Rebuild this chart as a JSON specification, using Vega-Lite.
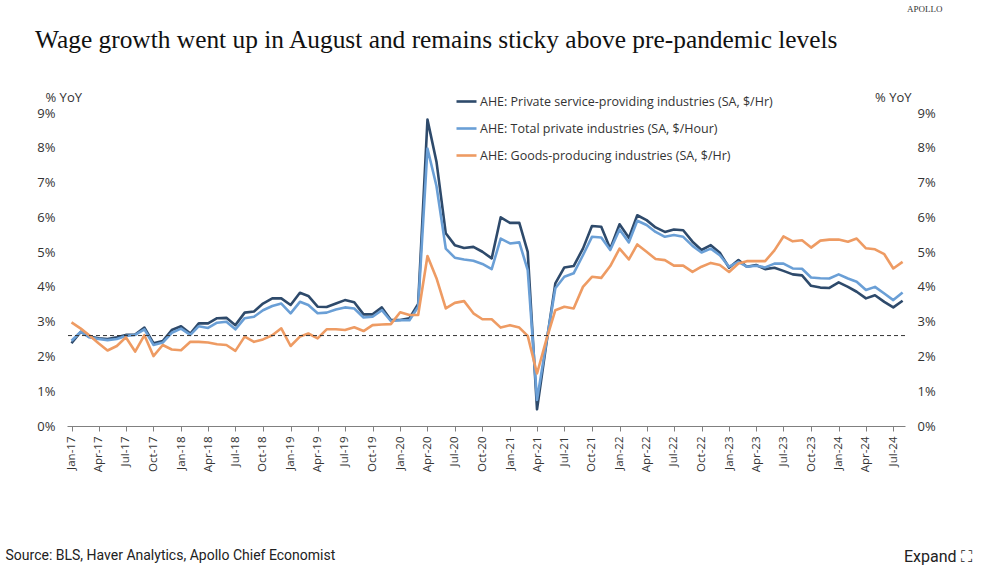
{
  "$schema": "https://vega.github.io/schema/vega-lite/v6.json",
  "width": 838,
  "height": 313,
  "autosize": {"type": "none"},
  "padding": {"left": 67, "top": 113, "right": 80, "bottom": 150},
  "background": "white",
  "config": {"view": {"stroke": null}},
  "title": {
    "text": "Wage growth went up in August and remains sticky above pre-pandemic levels",
    "anchor": "start",
    "frame": "group",
    "dx": -32,
    "dy": 48,
    "font": "Liberation Serif",
    "fontSize": 25.4,
    "fontWeight": "normal",
    "color": "#111111"
  },
  "datasets": {
    "wages": [
      {"d":"2017-01","svc":2.38,"tot":2.45,"goods":2.98},
      {"d":"2017-02","svc":2.71,"tot":2.71,"goods":2.80},
      {"d":"2017-03","svc":2.57,"tot":2.55,"goods":2.61},
      {"d":"2017-04","svc":2.52,"tot":2.50,"goods":2.38},
      {"d":"2017-05","svc":2.50,"tot":2.47,"goods":2.17},
      {"d":"2017-06","svc":2.55,"tot":2.50,"goods":2.30},
      {"d":"2017-07","svc":2.62,"tot":2.59,"goods":2.55},
      {"d":"2017-08","svc":2.63,"tot":2.62,"goods":2.14},
      {"d":"2017-09","svc":2.83,"tot":2.78,"goods":2.61},
      {"d":"2017-10","svc":2.38,"tot":2.33,"goods":2.01},
      {"d":"2017-11","svc":2.44,"tot":2.40,"goods":2.33},
      {"d":"2017-12","svc":2.76,"tot":2.68,"goods":2.20},
      {"d":"2018-01","svc":2.87,"tot":2.80,"goods":2.18},
      {"d":"2018-02","svc":2.66,"tot":2.62,"goods":2.42},
      {"d":"2018-03","svc":2.95,"tot":2.87,"goods":2.42},
      {"d":"2018-04","svc":2.95,"tot":2.82,"goods":2.40},
      {"d":"2018-05","svc":3.10,"tot":2.97,"goods":2.35},
      {"d":"2018-06","svc":3.11,"tot":3.00,"goods":2.33},
      {"d":"2018-07","svc":2.90,"tot":2.78,"goods":2.16},
      {"d":"2018-08","svc":3.26,"tot":3.10,"goods":2.57},
      {"d":"2018-09","svc":3.29,"tot":3.14,"goods":2.42},
      {"d":"2018-10","svc":3.52,"tot":3.33,"goods":2.49},
      {"d":"2018-11","svc":3.67,"tot":3.45,"goods":2.61},
      {"d":"2018-12","svc":3.67,"tot":3.52,"goods":2.81},
      {"d":"2019-01","svc":3.48,"tot":3.24,"goods":2.30},
      {"d":"2019-02","svc":3.83,"tot":3.57,"goods":2.57},
      {"d":"2019-03","svc":3.74,"tot":3.48,"goods":2.66},
      {"d":"2019-04","svc":3.43,"tot":3.24,"goods":2.52},
      {"d":"2019-05","svc":3.42,"tot":3.26,"goods":2.78},
      {"d":"2019-06","svc":3.52,"tot":3.35,"goods":2.78},
      {"d":"2019-07","svc":3.62,"tot":3.41,"goods":2.76},
      {"d":"2019-08","svc":3.56,"tot":3.38,"goods":2.84},
      {"d":"2019-09","svc":3.21,"tot":3.12,"goods":2.73},
      {"d":"2019-10","svc":3.21,"tot":3.14,"goods":2.90},
      {"d":"2019-11","svc":3.41,"tot":3.33,"goods":2.92},
      {"d":"2019-12","svc":3.05,"tot":3.02,"goods":2.93},
      {"d":"2020-01","svc":3.05,"tot":3.04,"goods":3.27},
      {"d":"2020-02","svc":3.10,"tot":3.04,"goods":3.19},
      {"d":"2020-03","svc":3.51,"tot":3.43,"goods":3.19},
      {"d":"2020-04","svc":8.81,"tot":7.98,"goods":4.89},
      {"d":"2020-05","svc":7.60,"tot":6.90,"goods":4.25},
      {"d":"2020-06","svc":5.54,"tot":5.10,"goods":3.38},
      {"d":"2020-07","svc":5.20,"tot":4.84,"goods":3.54},
      {"d":"2020-08","svc":5.12,"tot":4.79,"goods":3.59},
      {"d":"2020-09","svc":5.15,"tot":4.75,"goods":3.24},
      {"d":"2020-10","svc":5.01,"tot":4.66,"goods":3.07},
      {"d":"2020-11","svc":4.82,"tot":4.51,"goods":3.07},
      {"d":"2020-12","svc":6.00,"tot":5.39,"goods":2.83},
      {"d":"2021-01","svc":5.84,"tot":5.25,"goods":2.90},
      {"d":"2021-02","svc":5.84,"tot":5.28,"goods":2.83},
      {"d":"2021-03","svc":5.01,"tot":4.48,"goods":2.59},
      {"d":"2021-04","svc":0.48,"tot":0.75,"goods":1.51},
      {"d":"2021-05","svc":2.30,"tot":2.35,"goods":2.45},
      {"d":"2021-06","svc":4.10,"tot":3.96,"goods":3.33},
      {"d":"2021-07","svc":4.56,"tot":4.29,"goods":3.43},
      {"d":"2021-08","svc":4.60,"tot":4.39,"goods":3.38},
      {"d":"2021-09","svc":5.10,"tot":4.91,"goods":4.00},
      {"d":"2021-10","svc":5.75,"tot":5.44,"goods":4.29},
      {"d":"2021-11","svc":5.73,"tot":5.42,"goods":4.26},
      {"d":"2021-12","svc":5.10,"tot":5.06,"goods":4.60},
      {"d":"2022-01","svc":5.80,"tot":5.65,"goods":5.10},
      {"d":"2022-02","svc":5.41,"tot":5.28,"goods":4.79},
      {"d":"2022-03","svc":6.06,"tot":5.90,"goods":5.22},
      {"d":"2022-04","svc":5.92,"tot":5.78,"goods":5.01},
      {"d":"2022-05","svc":5.71,"tot":5.58,"goods":4.80},
      {"d":"2022-06","svc":5.58,"tot":5.44,"goods":4.77},
      {"d":"2022-07","svc":5.65,"tot":5.49,"goods":4.61},
      {"d":"2022-08","svc":5.63,"tot":5.44,"goods":4.61},
      {"d":"2022-09","svc":5.30,"tot":5.18,"goods":4.43},
      {"d":"2022-10","svc":5.06,"tot":4.99,"goods":4.58},
      {"d":"2022-11","svc":5.20,"tot":5.10,"goods":4.69},
      {"d":"2022-12","svc":4.98,"tot":4.91,"goods":4.63},
      {"d":"2023-01","svc":4.55,"tot":4.58,"goods":4.43},
      {"d":"2023-02","svc":4.77,"tot":4.72,"goods":4.67},
      {"d":"2023-03","svc":4.58,"tot":4.58,"goods":4.74},
      {"d":"2023-04","svc":4.63,"tot":4.61,"goods":4.74},
      {"d":"2023-05","svc":4.51,"tot":4.56,"goods":4.74},
      {"d":"2023-06","svc":4.55,"tot":4.67,"goods":5.05},
      {"d":"2023-07","svc":4.46,"tot":4.67,"goods":5.45},
      {"d":"2023-08","svc":4.36,"tot":4.53,"goods":5.31},
      {"d":"2023-09","svc":4.33,"tot":4.52,"goods":5.34},
      {"d":"2023-10","svc":4.03,"tot":4.27,"goods":5.13},
      {"d":"2023-11","svc":3.98,"tot":4.25,"goods":5.33},
      {"d":"2023-12","svc":3.97,"tot":4.24,"goods":5.36},
      {"d":"2024-01","svc":4.13,"tot":4.36,"goods":5.36},
      {"d":"2024-02","svc":4.00,"tot":4.24,"goods":5.30},
      {"d":"2024-03","svc":3.86,"tot":4.15,"goods":5.39},
      {"d":"2024-04","svc":3.67,"tot":3.91,"goods":5.11},
      {"d":"2024-05","svc":3.76,"tot":4.00,"goods":5.08},
      {"d":"2024-06","svc":3.57,"tot":3.81,"goods":4.94},
      {"d":"2024-07","svc":3.41,"tot":3.62,"goods":4.53},
      {"d":"2024-08","svc":3.60,"tot":3.84,"goods":4.72}
    ],
    "ref": [{"level": 2.6, "note": "Expand ⛶", "brand": "APOLLO"}]
  },
  "resolve": {"axis": {"y": "independent"}},
  "layer": [
    {
      "data": {"name": "wages", "format": {"parse": {"d": "utc:'%Y-%m'"}}},
      "transform": [{"fold": ["svc", "tot", "goods"], "as": ["series", "value"]}],
      "mark": {"type": "line", "strokeWidth": 2.6, "strokeJoin": "round"},
      "encoding": {
        "x": {
          "field": "d",
          "type": "temporal",
          "scale": {"type": "utc", "domain": [{"year": 2016, "month": 12, "date": 17, "utc": true}, {"year": 2024, "month": 8, "date": 9, "utc": true}]},
          "axis": {
            "tickCount": {"interval": "month", "step": 3},
            "format": "%b-%y",
            "labelAngle": -90,
            "labelFont": "Open Sans",
            "labelFontSize": 11.5,
            "labelColor": "#333333",
            "labelPadding": 5,
            "labelOverlap": false,
            "labelFlush": false,
            "grid": false,
            "ticks": true,
            "tickSize": 5,
            "tickColor": "#808080",
            "domainColor": "#808080",
            "title": "Source: BLS, Haver Analytics, Apollo Chief Economist",
            "titleFont": "Roboto",
            "titleFontSize": 14,
            "titleFontWeight": "normal",
            "titleColor": "#222222",
            "titleAlign": "left",
            "titleAnchor": "start",
            "titleBaseline": "middle",
            "titleX": -62,
            "titleY": 129
          }
        },
        "y": {
          "field": "value",
          "type": "quantitative",
          "scale": {"domain": [0, 9], "nice": false},
          "axis": {
            "orient": "left",
            "values": [0, 1, 2, 3, 4, 5, 6, 7, 8, 9],
            "labelExpr": "datum.value + '%'",
            "labelFont": "Open Sans",
            "labelFontSize": 13,
            "labelColor": "#333333",
            "labelPadding": 12,
            "ticks": false,
            "domain": false,
            "grid": false,
            "title": "% YoY",
            "titleAngle": 0,
            "titleFont": "Open Sans",
            "titleFontSize": 13,
            "titleFontWeight": "normal",
            "titleColor": "#333333",
            "titleAlign": "left",
            "titleBaseline": "middle",
            "titleX": -22,
            "titleY": -16
          }
        },
        "color": {
          "field": "series",
          "type": "nominal",
          "scale": {"domain": ["svc", "tot", "goods"], "range": ["#2E4A6B", "#6A9FD6", "#EE9B63"]},
          "legend": {
            "orient": "none",
            "legendX": 388,
            "legendY": -23,
            "title": null,
            "symbolType": "stroke",
            "symbolSize": 400,
            "symbolStrokeWidth": 2.6,
            "labelFont": "Open Sans",
            "labelFontSize": 12.5,
            "labelColor": "#333333",
            "labelOffset": 2,
            "rowPadding": 9,
            "labelLimit": 400,
            "labelExpr": "datum.label == 'svc' ? 'AHE: Private service-providing industries (SA, $/Hr)' : datum.label == 'tot' ? 'AHE: Total private industries (SA, $/Hour)' : 'AHE: Goods-producing industries (SA, $/Hr)'"
          }
        }
      }
    },
    {
      "data": {"name": "ref"},
      "mark": {"type": "rule", "color": "#333333"},
      "encoding": {
        "y": {
          "field": "level",
          "type": "quantitative",
          "axis": {
            "orient": "right",
            "values": [0, 1, 2, 3, 4, 5, 6, 7, 8, 9],
            "labelExpr": "datum.value + '%'",
            "labelFont": "Open Sans",
            "labelFontSize": 13,
            "labelColor": "#333333",
            "labelPadding": 12,
            "ticks": false,
            "domain": false,
            "grid": false,
            "title": "% YoY",
            "titleAngle": 0,
            "titleFont": "Open Sans",
            "titleFontSize": 13,
            "titleFontWeight": "normal",
            "titleColor": "#333333",
            "titleAlign": "right",
            "titleBaseline": "middle",
            "titleX": 6,
            "titleY": -16
          }
        },
        "strokeDash": {
          "field": "note",
          "type": "nominal",
          "scale": {"range": [[4, 3]]},
          "legend": {
            "orient": "none",
            "legendX": 821,
            "legendY": 436,
            "title": null,
            "symbolSize": 1,
            "symbolOpacity": 0,
            "labelOffset": 0,
            "labelFont": "Roboto",
            "labelFontSize": 16,
            "labelColor": "#222222"
          }
        },
        "strokeWidth": {
          "field": "brand",
          "type": "ordinal",
          "scale": {"range": [1.3]},
          "legend": {
            "orient": "none",
            "legendX": 840,
            "legendY": -104,
            "title": null,
            "symbolSize": 1,
            "symbolOpacity": 0,
            "labelOffset": 0,
            "labelFont": "Liberation Serif",
            "labelFontSize": 9,
            "labelColor": "#333333"
          }
        }
      }
    }
  ]
}
